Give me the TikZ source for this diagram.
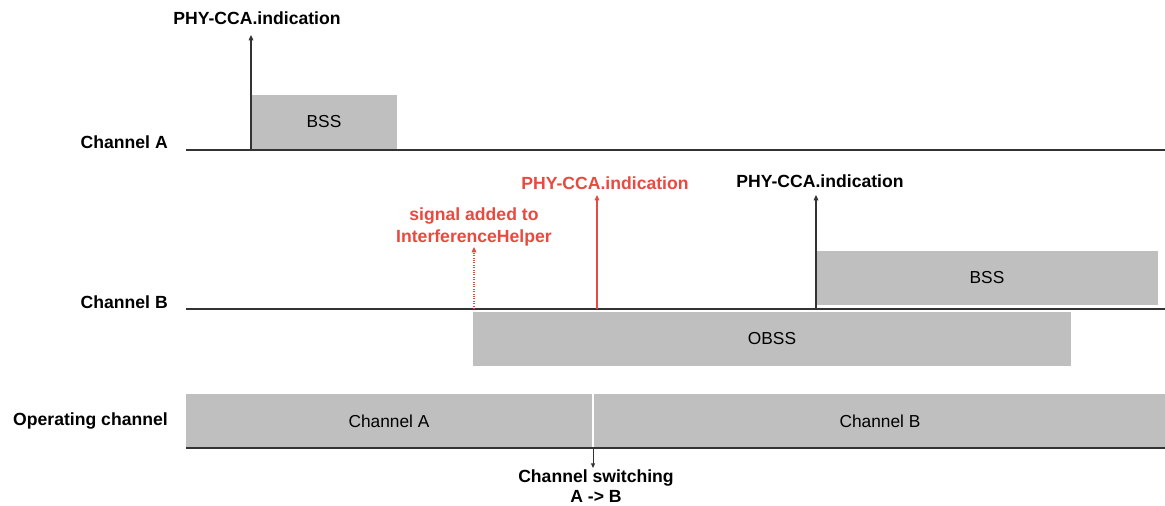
\documentclass[tikz,border=0pt]{standalone}
\usepackage{fontspec}
\setmainfont{Liberation Sans}
\usetikzlibrary{arrows.meta}
\definecolor{boxgray}{HTML}{BFBFBF}
\definecolor{linegray}{HTML}{333333}
\definecolor{redlab}{HTML}{E84A3F}
\begin{document}
\begin{tikzpicture}[x=0.75pt,y=-0.75pt,
  lab/.style={font=\fontsize{13.2}{16.5}\selectfont\bfseries, inner sep=0pt},
  rowlab/.style={lab, anchor=east},
  boxtxt/.style={font=\fontsize{13}{15}\selectfont, inner sep=0pt},
  bar/.style={fill=boxgray, draw=none},
  chline/.style={draw=linegray, line width=0.9pt},
  arr/.style={draw=linegray, line width=0.8pt, -{Triangle[length=4pt,width=3.5pt]}},
  rarr/.style={draw=redlab, line width=0.8pt, -{Triangle[length=4pt,width=3.5pt]}},
  rdot/.style={rarr, densely dotted},
]
\useasboundingbox (0,0) rectangle (1165,506);
\fill[white] (0,0) rectangle (1165,506);

% Channel A row
\node[rowlab] (lchA) at (168,142) {Channel A};
\fill[bar] (251,95) rectangle (397,150);
\node[boxtxt] (bssA) at (324,122) {BSS};
\coordinate (ia0) at (186,150);
\coordinate (ia1) at (1165,150);
\draw[chline] (ia0) -- (ia1);
\coordinate (ccaA0) at (251,150);
\node[lab] (ccaA) at (257,18) {PHY-CCA.indication};
\coordinate (ccaA1) at (251,35);
\draw[arr] (ccaA0) -- (ccaA1);

% Channel B row
\node[rowlab] (lchB) at (168,302) {Channel B};
\fill[bar] (816,251) rectangle (1158,305);
\node[boxtxt] (bssB) at (987,278) {BSS};
\fill[bar] (473,312) rectangle (1071,366);
\node[boxtxt] (obss) at (772,339) {OBSS};
\coordinate (ib0) at (186,309);
\coordinate (ib1) at (1165,309);
\draw[chline] (ib0) -- (ib1);

\coordinate (sig0) at (474,309);
\coordinate (sig1) at (474,247);
\node[lab, text=redlab, align=center] (sig) at (474,227) {signal added to\\InterferenceHelper};
\draw[rdot] (sig0) -- (sig1);

\coordinate (rcca0) at (597,309);
\coordinate (rcca1) at (597,195);
\node[lab, text=redlab] (rcca) at (605,183) {PHY-CCA.indication};
\draw[rarr] (rcca0) -- (rcca1);

\coordinate (ccaB0) at (816,309);
\coordinate (ccaB1) at (816,195);
\node[lab] (ccaB) at (820,181) {PHY-CCA.indication};
\draw[arr] (ccaB0) -- (ccaB1);

% Operating channel row
\node[rowlab] (lop) at (168,421) {Operating channel};
\fill[bar] (186,394) rectangle (1165,448);
\draw[white, line width=1.5pt] (593,394) -- (593,448);
\node[boxtxt] (opA) at (389,421) {Channel A};
\node[boxtxt] (opB) at (880,421) {Channel B};
\coordinate (io0) at (186,448);
\coordinate (io1) at (1165,448);
\draw[chline] (io0) -- (io1);
\coordinate (sw0) at (593,448);
\coordinate (sw1) at (593,468);
\draw[arr, line width=0.7pt, -{Triangle[length=3.5pt,width=3pt]}] (sw0) -- (sw1);
\node[lab, align=center, font=\fontsize{13.2}{15}\selectfont\bfseries] (sw) at (596,486) {Channel switching\\A -> B};
\end{tikzpicture}
\end{document}
